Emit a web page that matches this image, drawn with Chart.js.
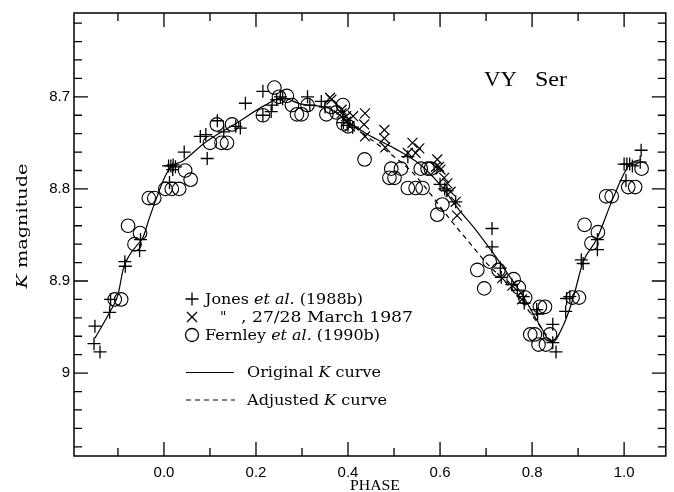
<!DOCTYPE html>
<html><head><meta charset="utf-8">
<script src="https://cdn.jsdelivr.net/npm/chart.js@4/dist/chart.umd.min.js"></script>
<style>html,body{margin:0;padding:0;background:#fff;}#wrap{width:674px;height:492px;}</style>
</head><body><div id="wrap"><canvas id="c" width="674" height="492"></canvas></div>
<script>
// ---- axis ranges & ticks ----
const X_MIN = -0.1955, X_MAX = 1.0906;
const Y_MIN = 8.609, Y_MAX = 9.090;
const X_MAJOR_TICKS = [0.0, 0.2, 0.4, 0.6, 0.8, 1.0];
const X_MINOR_TICKS = [-0.1, 0.1, 0.3, 0.5, 0.7, 0.9];
const Y_MAJOR_TICKS = [8.7, 8.8, 8.9, 9.0];
const Y_MINOR_TICKS = [8.62, 8.64, 8.66, 8.68, 8.72, 8.74, 8.76, 8.78, 8.82, 8.84, 8.86, 8.88, 8.92, 8.94, 8.96, 8.98, 9.02, 9.04, 9.06, 9.08];

// ---- Jones et al. (1988b)  (+) ----
const JONES_PHASE = [-0.150,-0.152,-0.139,-0.118,-0.116,-0.085,-0.084,-0.053,-0.051,0.012,0.010,0.015,0.020,0.025,0.019,0.044,0.094,0.079,0.091,0.116,0.130,0.156,0.166,0.177,0.215,0.215,0.233,0.235,0.245,0.253,0.258,0.312,0.317,0.342,0.350,0.390,0.400,0.410,0.530,0.600,0.610,0.615,0.634,0.713,0.713,0.731,0.733,0.756,0.768,0.781,0.783,0.810,0.812,0.845,0.845,0.852,0.873,0.875,0.882,0.907,0.911,0.942,0.942,1.004,1.000,1.006,1.012,1.018,1.035,1.037];
const JONES_MAG   = [8.949,8.968,8.977,8.934,8.920,8.879,8.884,8.867,8.855,8.793,8.775,8.775,8.774,8.776,8.779,8.760,8.767,8.743,8.741,8.726,8.738,8.732,8.734,8.707,8.694,8.720,8.716,8.709,8.703,8.700,8.702,8.700,8.709,8.705,8.711,8.728,8.731,8.733,8.765,8.795,8.800,8.802,8.814,8.843,8.863,8.886,8.896,8.904,8.910,8.917,8.924,8.931,8.936,8.947,8.967,8.977,8.933,8.919,8.917,8.877,8.881,8.866,8.855,8.791,8.773,8.773,8.773,8.775,8.771,8.758];

// ---- Jones, 27/28 March 1987 (x) ----
const MARCH_PHASE = [0.361,0.364,0.386,0.386,0.396,0.396,0.404,0.411,0.437,0.435,0.437,0.479,0.479,0.481,0.530,0.540,0.555,0.547,0.594,0.591,0.598,0.601,0.609,0.616,0.623,0.634,0.637,0.735,0.757,0.778];
const MARCH_MAG   = [8.701,8.703,8.714,8.718,8.721,8.727,8.732,8.721,8.718,8.730,8.743,8.736,8.745,8.755,8.761,8.750,8.756,8.761,8.768,8.776,8.776,8.779,8.788,8.794,8.803,8.814,8.829,8.897,8.905,8.920];

// ---- Fernley et al. (1990b) (o) ----
const FERNLEY_PHASE = [-0.107,-0.093,-0.064,-0.078,-0.052,-0.033,-0.021,0.003,0.017,0.033,0.046,0.058,0.100,0.115,0.125,0.137,0.148,0.215,0.240,0.250,0.267,0.278,0.289,0.299,0.312,0.353,0.363,0.375,0.389,0.390,0.400,0.436,0.490,0.501,0.494,0.515,0.530,0.547,0.562,0.558,0.573,0.580,0.605,0.594,0.681,0.696,0.708,0.727,0.760,0.771,0.785,0.817,0.828,0.796,0.806,0.814,0.830,0.839,0.888,0.902,0.929,0.914,0.943,0.961,0.973,1.009,1.024,1.038];
const FERNLEY_MAG   = [8.920,8.920,8.860,8.840,8.848,8.810,8.810,8.800,8.800,8.800,8.780,8.790,8.750,8.730,8.750,8.750,8.730,8.720,8.690,8.700,8.699,8.709,8.719,8.719,8.709,8.719,8.711,8.717,8.709,8.729,8.732,8.768,8.788,8.788,8.778,8.778,8.799,8.799,8.799,8.778,8.778,8.778,8.817,8.828,8.888,8.908,8.879,8.888,8.898,8.907,8.918,8.928,8.928,8.958,8.958,8.969,8.969,8.958,8.918,8.918,8.859,8.839,8.847,8.808,8.808,8.798,8.798,8.778];

// ---- Original K curve (solid) ----
const ORIG_PHASE = [-0.150,-0.118,-0.100,-0.088,-0.075,-0.060,-0.045,-0.032,-0.014,0.001,0.015,0.040,0.091,0.156,0.220,0.256,0.299,0.357,0.400,0.443,0.501,0.558,0.601,0.640,0.680,0.710,0.740,0.781,0.817,0.843,0.868,0.889,0.911,0.940,0.976,1.011,1.037];
const ORIG_MAG   = [8.962,8.934,8.915,8.886,8.872,8.862,8.852,8.832,8.807,8.788,8.776,8.770,8.749,8.729,8.709,8.701,8.708,8.712,8.727,8.741,8.756,8.774,8.796,8.822,8.846,8.866,8.887,8.917,8.948,8.967,8.948,8.919,8.879,8.855,8.810,8.774,8.768];

// ---- Adjusted K curve (dashed) ----
const ADJ_PHASE = [0.370,0.420,0.460,0.500,0.540,0.580,0.620,0.660,0.700,0.740,0.780,0.820,0.843];
const ADJ_MAG   = [8.715,8.735,8.750,8.765,8.782,8.806,8.832,8.856,8.880,8.900,8.924,8.951,8.967];

const zip = (xs, ys) => xs.map((x, i) => ({x: x, y: ys[i]}));

const SERIF = '"DejaVu Serif", serif';

function drawRuns(ctx, runs, x, y, targetW, align) {
  let w = 0;
  runs.forEach(r => { ctx.font = r.font; w += ctx.measureText(r.t).width; });
  const s = targetW ? targetW / w : 1;
  ctx.save();
  ctx.translate(x, y);
  ctx.scale(s, 1);
  let cx = align === 'center' ? -w / 2 : (align === 'right' ? -w : 0);
  runs.forEach(r => { ctx.font = r.font; ctx.fillText(r.t, cx, 0); cx += ctx.measureText(r.t).width; });
  ctx.restore();
}

const decorPlugin = {
  id: 'decor',
  afterDraw(chart) {
    const ctx = chart.ctx, a = chart.chartArea;
    const xs = chart.scales.x, ys = chart.scales.y;
    ctx.save();
    ctx.strokeStyle = '#000'; ctx.fillStyle = '#000';
    ctx.lineWidth = 1.5;
    ctx.strokeRect(a.left, a.top, a.right - a.left, a.bottom - a.top);
    ctx.lineWidth = 1.3;
    const MAJ = 14, MIN = 8;
    ctx.beginPath();
    const xt = (v, L) => { const p = xs.getPixelForValue(v);
      ctx.moveTo(p, a.bottom); ctx.lineTo(p, a.bottom - L);
      ctx.moveTo(p, a.top); ctx.lineTo(p, a.top + L); };
    const yt = (v, L) => { const p = ys.getPixelForValue(v);
      ctx.moveTo(a.left, p); ctx.lineTo(a.left + L, p);
      ctx.moveTo(a.right, p); ctx.lineTo(a.right - L, p); };
    X_MAJOR_TICKS.forEach(v => xt(v, MAJ));
    X_MINOR_TICKS.forEach(v => xt(v, MIN));
    Y_MAJOR_TICKS.forEach(v => yt(v, MAJ));
    Y_MINOR_TICKS.forEach(v => yt(v, MIN));
    ctx.stroke();

    // Title
    ctx.textBaseline = 'alphabetic';
    drawRuns(ctx, [{t: 'VY', font: '22px "Liberation Serif", serif'}], 484, 86, 33);
    drawRuns(ctx, [{t: 'Ser', font: '22px "Liberation Serif", serif'}], 535, 86, 32);

    // Axis titles
    drawRuns(ctx, [{t: 'PHASE', font: '15px "Liberation Serif", serif'}], 375, 490, 50, 'center');
    ctx.save();
    ctx.translate(22, 226);
    ctx.rotate(-Math.PI / 2);
    drawRuns(ctx, [{t: 'K', font: 'italic 15px ' + SERIF}, {t: ' magnitude', font: '15px ' + SERIF}], 0, 5, 125, 'center');
    ctx.restore();

    // Legend markers
    const mx = 192;
    ctx.lineWidth = 1.3;
    ctx.beginPath();
    ctx.moveTo(mx - 6.5, 299); ctx.lineTo(mx + 6.5, 299);
    ctx.moveTo(mx, 292.5); ctx.lineTo(mx, 305.5);
    ctx.moveTo(mx - 5, 312); ctx.lineTo(mx + 5, 322);
    ctx.moveTo(mx + 5, 312); ctx.lineTo(mx - 5, 322);
    ctx.stroke();
    ctx.beginPath(); ctx.arc(mx, 335, 6.5, 0, Math.PI * 2); ctx.stroke();
    // Legend line samples
    ctx.lineWidth = 1.2;
    ctx.beginPath(); ctx.moveTo(186, 372.5); ctx.lineTo(234, 372.5); ctx.stroke();
    ctx.setLineDash([5, 4]);
    ctx.beginPath(); ctx.moveTo(186, 400); ctx.lineTo(235, 400); ctx.stroke();
    ctx.setLineDash([]);

    // Legend texts
    const F = '14px ' + SERIF, FI = 'italic 14px ' + SERIF;
    drawRuns(ctx, [{t: 'Jones ', font: F}, {t: 'et al.', font: FI}, {t: ' (1988b)', font: F}], 205, 304, 158);
    drawRuns(ctx, [{t: '"', font: F}], 220, 322);
    drawRuns(ctx, [{t: ', 27/28 March 1987', font: F}], 241, 322, 172);
    drawRuns(ctx, [{t: 'Fernley ', font: F}, {t: 'et al.', font: FI}, {t: ' (1990b)', font: F}], 205, 340, 175);
    drawRuns(ctx, [{t: 'Original ', font: F}, {t: 'K', font: FI}, {t: ' curve', font: F}], 247, 377, 134);
    drawRuns(ctx, [{t: 'Adjusted ', font: F}, {t: 'K', font: FI}, {t: ' curve', font: F}], 247, 405, 140);
    ctx.restore();
  }
};

new Chart(document.getElementById('c'), {
  type: 'scatter',
  data: {
    datasets: [
      {label: 'Original K curve', data: zip(ORIG_PHASE, ORIG_MAG), showLine: true, pointRadius: 0,
       borderColor: '#000', borderWidth: 1.2, cubicInterpolationMode: 'monotone', fill: false},
      {label: 'Adjusted K curve', data: zip(ADJ_PHASE, ADJ_MAG), showLine: true, pointRadius: 0,
       borderColor: '#000', borderWidth: 1.2, borderDash: [5, 4], cubicInterpolationMode: 'monotone', fill: false},
      {label: 'Jones et al. (1988b)', data: zip(JONES_PHASE, JONES_MAG), pointStyle: 'cross', pointRadius: 6.5,
       borderColor: '#000', backgroundColor: 'rgba(0,0,0,0)', borderWidth: 1.3},
      {label: '27/28 March 1987', data: zip(MARCH_PHASE, MARCH_MAG), pointStyle: 'crossRot', pointRadius: 7,
       borderColor: '#000', backgroundColor: 'rgba(0,0,0,0)', borderWidth: 1.2},
      {label: 'Fernley et al. (1990b)', data: zip(FERNLEY_PHASE, FERNLEY_MAG), pointStyle: 'circle', pointRadius: 6.8,
       borderColor: '#000', backgroundColor: 'rgba(0,0,0,0)', borderWidth: 1.1}
    ]
  },
  options: {
    responsive: false,
    animation: false,
    devicePixelRatio: 1,
    layout: {padding: {left: 0, right: 4, top: 13, bottom: 0}},
    plugins: {legend: {display: false}, tooltip: {enabled: false}},
    scales: {
      x: {
        type: 'linear', min: X_MIN, max: X_MAX,
        grid: {display: false, drawTicks: false}, border: {display: false},
        afterBuildTicks: s => { s.ticks = X_MAJOR_TICKS.map(v => ({value: v})); },
        afterFit: s => { s.height = 36; },
        ticks: {color: '#000', padding: 8, maxRotation: 0, font: {family: '"Liberation Sans", sans-serif', size: 15},
                callback: v => Number(v).toFixed(1)}
      },
      y: {
        type: 'linear', reverse: true, min: Y_MIN, max: Y_MAX,
        grid: {display: false, drawTicks: false}, border: {display: false},
        afterBuildTicks: s => { s.ticks = Y_MAJOR_TICKS.map(v => ({value: v})); },
        afterFit: s => { s.width = 74; },
        ticks: {color: '#000', padding: 4, font: {family: '"Liberation Sans", sans-serif', size: 15},
                callback: v => (Math.abs(v - 9) < 1e-6 ? '9' : Number(v).toFixed(1))}
      }
    }
  },
  plugins: [decorPlugin]
});
</script>
</body></html>
